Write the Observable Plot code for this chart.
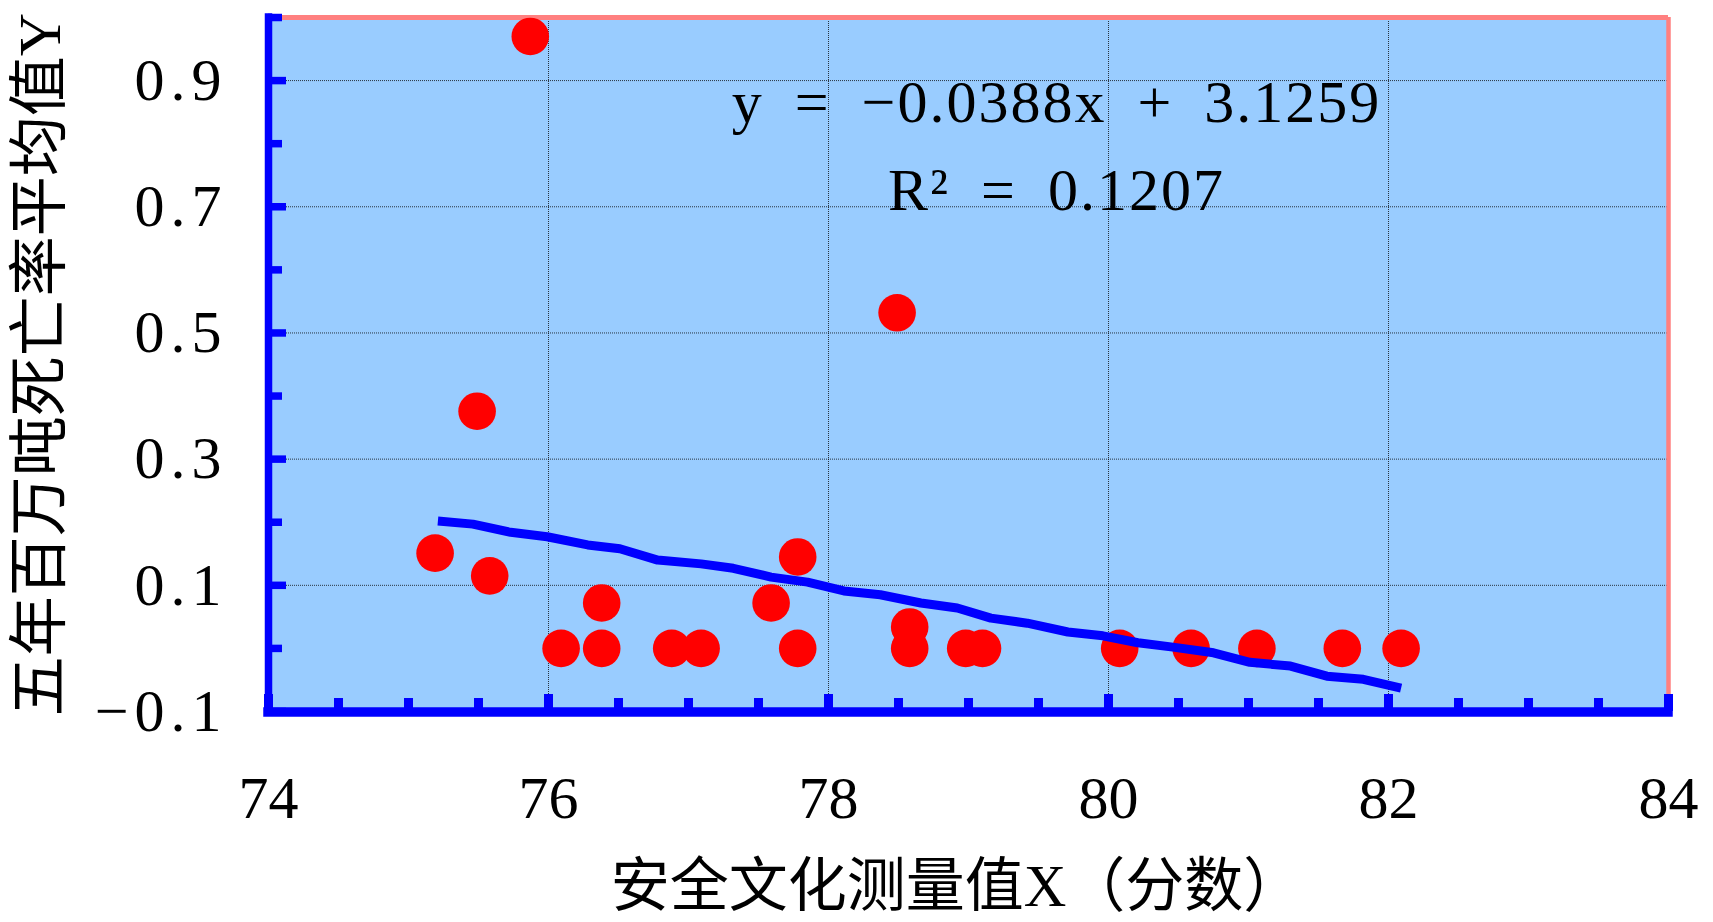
<!DOCTYPE html>
<html>
<head>
<meta charset="utf-8">
<script src="https://cdn.jsdelivr.net/npm/d3@7"></script>
<script src="https://cdn.jsdelivr.net/npm/@observablehq/plot@0.6"></script>
<style>
html, body { margin: 0; padding: 0; background: #fff; overflow: hidden; }
#chart svg { display: block; }
g[aria-label="y-axis tick label"] text { letter-spacing: 6px; }
</style>
</head>
<body>
<div id="chart"></div>
<script>
// ---- data ----
const scoreX     = [75.87, 75.49, 78.49, 75.19, 75.58, 76.38, 76.09, 76.38, 76.88, 77.09, 77.59, 77.78, 77.78, 78.58, 78.58, 78.98, 79.10, 80.08, 80.59, 81.06, 81.67, 82.09];
const deathRateY = [0.970, 0.376, 0.532, 0.151, 0.115, 0.072, 0.000, 0.000, 0.000, 0.000, 0.072, 0.145, 0.000, 0.034, 0.000, 0.000, 0.000, 0.000, 0.000, 0.000, 0.000, 0.000];

// trend line vertices as drawn in the reference
const trendX = [75.21, 75.46, 75.73, 75.99, 76.28, 76.51, 76.78, 77.09, 77.32, 77.59, 77.85, 78.11, 78.37, 78.66, 78.92, 79.16, 79.42, 79.71, 79.96, 80.21, 80.46, 80.75, 81.01, 81.30, 81.56, 81.82, 82.09];
const trendY = [0.202, 0.197, 0.184, 0.177, 0.164, 0.158, 0.140, 0.134, 0.127, 0.113, 0.105, 0.091, 0.085, 0.072, 0.064, 0.048, 0.040, 0.026, 0.020, 0.009, 0.002, -0.007, -0.022, -0.028, -0.044, -0.049, -0.063];

// axes
const xDomain = [74, 84];
const yDomain = [-0.1, 1.0];
const xMajorTicks = [74, 76, 78, 80, 82, 84];
const xMinorTicks = [74.5, 75, 75.5, 76.5, 77, 77.5, 78.5, 79, 79.5, 80.5, 81, 81.5, 82.5, 83, 83.5];
const yMajorTicks = [-0.1, 0.1, 0.3, 0.5, 0.7, 0.9];
const yMinorTicks = [0, 0.2, 0.4, 0.6, 0.8, 1.0];
const xGridLines = [76, 78, 80, 82, 84];
const yGridLines = [0.1, 0.3, 0.5, 0.7, 0.9];

// texts
const xTitle = "安全文化测量值X（分数）";
const yTitle = "五年百万吨死亡率平均值Y";
const equationText = "y = −0.0388x + 3.1259";
const r2Text = "R² = 0.1207";

const points = scoreX.map((x, i) => ({x, y: deathRateY[i]}));
const trend = trendX.map((x, i) => ({x, y: trendY[i]}));

const FONT = "'Liberation Serif', 'Noto Sans CJK SC', serif";
const BLUE = "#0000FF";
const PINK = "#FF8080";
const gridStyle = {stroke: "#000", strokeOpacity: 0.75, strokeDasharray: "1,1", strokeWidth: 1};

const chart = Plot.plot({
  width: 1713,
  height: 922,
  marginLeft: 268,
  marginRight: 45,
  marginTop: 17,
  marginBottom: 211,
  x: {domain: xDomain, axis: null},
  y: {domain: yDomain, axis: null},
  style: {fontFamily: FONT, fontSize: "60px", color: "#000", background: "#fff", overflow: "visible"},
  marks: [
    Plot.frame({fill: "#99CCFF", stroke: "none"}),
    Plot.gridX(xGridLines, gridStyle),
    Plot.gridY(yGridLines, gridStyle),
    Plot.ruleY([yDomain[1]], {stroke: PINK, strokeWidth: 5}),
    Plot.ruleX([xDomain[1]], {stroke: PINK, strokeWidth: 4.5}),
    Plot.dot(points, {x: "x", y: "y", r: 18.8, fill: "#FF0000", stroke: "none"}),
    Plot.line(trend, {x: "x", y: "y", stroke: BLUE, strokeWidth: 9, strokeLinejoin: "round", strokeLinecap: "butt"}),
    // blue axis lines
    Plot.ruleX([xDomain[0]], {stroke: BLUE, strokeWidth: 7.5, strokeLinecap: "square"}),
    Plot.ruleY([yDomain[0]], {stroke: BLUE, strokeWidth: 9.5, strokeLinecap: "square", dy: 0.5}),
    // inward ticks
    Plot.axisX(xMajorTicks, {anchor: "bottom", tickSize: -17, stroke: BLUE, strokeWidth: 9, tickFormat: () => "", label: null}),
    Plot.axisX(xMinorTicks, {anchor: "bottom", tickSize: -13, stroke: BLUE, strokeWidth: 9, tickFormat: () => "", label: null}),
    Plot.axisY(yMajorTicks, {anchor: "left", tickSize: -18, stroke: BLUE, strokeWidth: 7.5, tickFormat: () => "", label: null}),
    Plot.axisY(yMinorTicks, {anchor: "left", tickSize: -14, stroke: BLUE, strokeWidth: 7.5, tickFormat: () => "", label: null}),
    // tick labels
    Plot.axisX(xMajorTicks, {anchor: "bottom", tickSize: 0, tickPadding: 64, tickFormat: d3.format("d"), label: null, fontSize: 60, fill: "#000"}),
    Plot.axisY(yMajorTicks, {anchor: "left", tickSize: 0, tickPadding: 41, tickFormat: d3.format(".1f"), label: null, fontSize: 60, fill: "#000"}),
    // axis titles
    Plot.text([yTitle], {frameAnchor: "left", dx: -228, rotate: -90, textAnchor: "middle", lineAnchor: "middle", fontSize: 60, fill: "#000"}),
    Plot.text([xTitle], {frameAnchor: "bottom", dx: -12, dy: 176, textAnchor: "middle", lineAnchor: "middle", fontSize: 59, fill: "#000"}),
    // regression annotation
    Plot.text([equationText], {frameAnchor: "top-left", dx: 788, dy: 85, textAnchor: "middle", lineAnchor: "middle", fontSize: 60, fill: "#000"}),
    Plot.text([r2Text], {frameAnchor: "top-left", dx: 788, dy: 173, textAnchor: "middle", lineAnchor: "middle", fontSize: 60, fill: "#000"})
  ]
});

document.getElementById("chart").appendChild(chart);

// wide SimSun-like spacing for the annotation
d3.select(chart).selectAll("text")
  .filter(function () { const t = this.textContent; return t === equationText || t === r2Text; })
  .style("letter-spacing", "2px")
  .style("word-spacing", "14px");
</script>
</body>
</html>
